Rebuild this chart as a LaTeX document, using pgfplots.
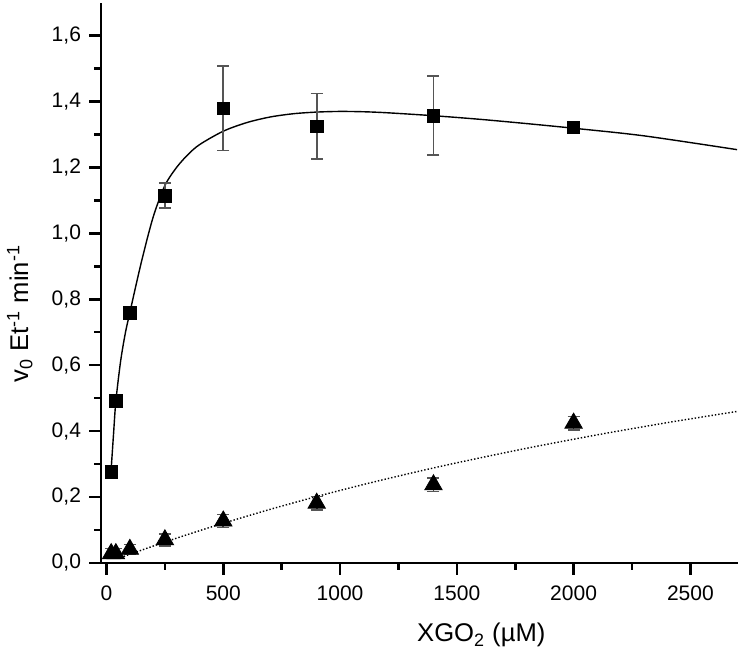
\documentclass[border=0pt]{standalone}
\usepackage{pgfplots}
\pgfplotsset{compat=1.18}
\usepackage{fontspec}
\setmainfont{Liberation Sans}
\definecolor{errgray}{RGB}{85,85,85}
\begin{document}
\begin{tikzpicture}
\begin{axis}[
  name=ax,
  scale only axis,
  width=318.4pt, height=280pt,
  xmin=-23.5, xmax=2704,
  ymin=0, ymax=1.7,
  axis x line*=bottom, axis y line*=left,
  axis line style={line width=1.3pt,-},
  xtick={0,500,...,2500},
  ytick={0,0.2,...,1.6},
  minor x tick num=1, minor y tick num=1,
  tick align=outside,
  major tick length=6pt, minor tick length=3.5pt,
  every tick/.style={line width=1.3pt, black},
  /pgf/number format/assume math mode=true,
  yticklabel style={/pgf/number format/fixed, /pgf/number format/fixed zerofill, /pgf/number format/precision=1, /pgf/number format/use comma, xshift=-0.5pt},
  xticklabel style={/pgf/number format/fixed, /pgf/number format/1000 sep={}, yshift=-2pt},
  ticklabel style={font=\fontsize{10.5}{12}\selectfont},
  scaled y ticks=false,
  clip=false,
  xlabel={XGO\textsubscript{2} (µM)},
  ylabel={v\textsubscript{0} Et\textsuperscript{-1} min\textsuperscript{-1}},
  every axis x label/.style={at={([yshift=-39.5pt]rel axis cs:0.597,0)}, anchor=base, font=\fontsize{12.8}{14}\selectfont},
  every axis y label/.style={at={([xshift=-36.5pt]rel axis cs:0,0.445)}, rotate=90, anchor=base, font=\fontsize{12.8}{14}\selectfont},
]
% fitted curve for squares
\addplot[black, line width=0.7pt, smooth, no marks] coordinates {
(20,0.285) (30,0.39) (40,0.49) (60,0.61) (80,0.695) (100,0.76) (150,0.915) (200,1.05)
(250,1.145) (300,1.2) (350,1.24) (400,1.27) (500,1.31) (600,1.336) (700,1.353)
(800,1.363) (900,1.368) (1000,1.370) (1100,1.369) (1200,1.366) (1400,1.357)
(1600,1.346) (1800,1.333) (2000,1.319) (2300,1.296) (2700,1.254)};
% fitted curve for triangles
\addplot[black, line width=0.7pt, densely dotted, smooth, no marks] coordinates {
(60,0.0157) (100,0.026) (200,0.0509) (300,0.0749) (400,0.098) (500,0.1202)
(700,0.1622) (900,0.2013) (1100,0.2377) (1300,0.2717) (1500,0.3036)
(1800,0.3479) (2100,0.3883) (2400,0.4254) (2700,0.4595)};
% squares
\addplot[only marks, mark=square*, mark size=3.1pt, black,
  error bars/.cd, y dir=both, y explicit,
  error bar style={errgray, line width=0.8pt},
  error mark options={rotate=90, mark size=3pt, errgray, line width=0.8pt}]
  coordinates {
(20,0.276) +- (0,0.01)
(40,0.491) +- (0,0.01)
(100,0.759) +- (0,0.012)
(250,1.114) +- (0,0.038)
(500,1.380) +- (0,0.128)
(900,1.325) +- (0,0.100)
(1400,1.357) +- (0,0.120)
(2000,1.322) +- (0,0.012)};
% triangles
\addplot[only marks, mark=triangle*, mark size=5pt, black,
  error bars/.cd, y dir=both, y explicit,
  error bar style={errgray, line width=0.8pt},
  error mark options={rotate=90, mark size=3pt, errgray, line width=0.8pt}]
  coordinates {
(20,0.028) +- (0,0.015)
(40,0.028) +- (0,0.015)
(100,0.041) +- (0,0.015)
(250,0.070) +- (0,0.018)
(500,0.127) +- (0,0.02)
(900,0.181) +- (0,0.02)
(1400,0.237) +- (0,0.02)
(2000,0.424) +- (0,0.02)};
\end{axis}
\pgfresetboundingbox
\path ([shift={(-50.5pt,-46.65pt)}]ax.south west) rectangle ([shift={(0pt,1.35pt)}]ax.north east);
\end{tikzpicture}
\end{document}
